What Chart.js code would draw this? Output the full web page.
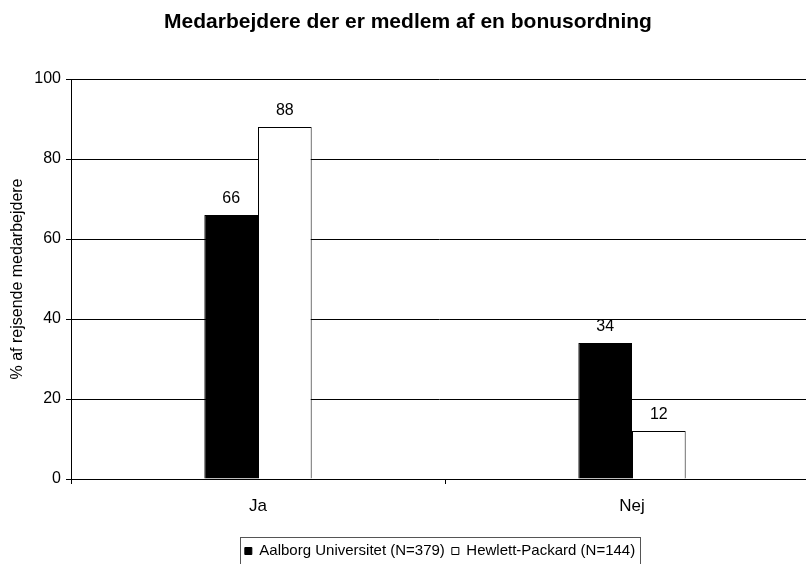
<!DOCTYPE html>
<html>
<head>
<meta charset="utf-8">
<script src="https://cdn.jsdelivr.net/npm/chart.js@4"></script>
<style>
  html, body { margin: 0; padding: 0; background: #fff; overflow: hidden; }
  #wrap { width: 806px; height: 564px; }
</style>
</head>
<body>
<div id="wrap"><canvas id="chart" width="806" height="564"></canvas></div>
<script>
// data
const categories = ["Ja", "Nej"];
const seriesNames = ["Aalborg Universitet (N=379)", "Hewlett-Packard (N=144)"];
const aalborg = [66, 34];
const hp = [88, 12];
const yTicks = [0, 20, 40, 60, 80, 100];

const FONT = "'Liberation Sans', Arial, sans-serif";
Chart.defaults.font.family = FONT;
Chart.defaults.color = "#000";

// value labels above the bars
const valueLabels = {
  id: "valueLabels",
  afterDatasetsDraw(chart) {
    const ctx = chart.ctx;
    ctx.save();
    ctx.font = "16px " + FONT;
    ctx.fillStyle = "#000";
    ctx.textAlign = "center";
    ctx.textBaseline = "middle";
    chart.data.datasets.forEach((ds, i) => {
      chart.getDatasetMeta(i).data.forEach((bar, j) => {
        ctx.fillText(String(ds.data[j]), bar.x, bar.y - 16);
      });
    });
    ctx.restore();
  }
};

// plot area runs a bit past the right edge like the original (cropped) picture,
// title and legend get re-centred
const frameFix = {
  id: "frameFix",
  afterLayout(chart) {
    const x = chart.scales.x;
    x.right = 819;
    x.width = x.right - x.left;
    x.configure();
    chart.chartArea.right = 819;
    chart.chartArea.width = 819 - chart.chartArea.left;

    chart.titleBlock.left = 0;
    chart.titleBlock.right = 816;
    chart.titleBlock.width = 816;

    const lg = chart.legend;
    lg.left = 0;
    lg.right = 880;
    lg.width = 880;
  }
};

// frame around the legend
const legendFrame = {
  id: "legendFrame",
  afterDraw(chart) {
    const hits = chart.legend.legendHitBoxes;
    if (!hits || !hits.length) return;
    const first = hits[0];
    const last = hits[hits.length - 1];
    const left = Math.round(first.left - 5) + 0.5;
    const right = Math.round(last.left + last.width + 5) + 0.5;
    const top = Math.round(first.top - 6.5) + 0.5;
    const ctx = chart.ctx;
    ctx.save();
    ctx.strokeStyle = "#555";
    ctx.lineWidth = 1;
    ctx.strokeRect(left, top, right - left, 40);
    ctx.restore();
  }
};

new Chart(document.getElementById("chart"), {
  type: "bar",
  data: {
    labels: categories,
    datasets: [
      {
        label: seriesNames[0],
        data: aalborg,
        backgroundColor: "#000",
        borderColor: "#000",
        borderWidth: 1
      },
      {
        label: seriesNames[1],
        data: hp,
        backgroundColor: "#fff",
        borderColor: "#000",
        borderWidth: 1
      }
    ]
  },
  options: {
    responsive: false,
    animation: false,
    events: [],
    layout: { padding: { left: -11, right: 0, top: 0, bottom: -4.5 } },
    datasets: {
      bar: { categoryPercentage: 0.287, barPercentage: 1 }
    },
    plugins: {
      title: {
        display: true,
        text: "Medarbejdere der er medlem af en bonusordning",
        font: { size: 21, weight: "bold" },
        color: "#000",
        padding: { top: 9.4, bottom: 44.4 }
      },
      legend: {
        position: "bottom",
        labels: {
          boxWidth: 7,
          boxHeight: 7,
          padding: 7,
          font: { size: 15 },
          color: "#000"
        }
      },
      tooltip: { enabled: false }
    },
    scales: {
      x: {
        grid: {
          drawOnChartArea: false,
          drawTicks: true,
          tickLength: 5,
          color: "#000"
        },
        border: { color: "#000" },
        ticks: { font: { size: 17 }, padding: 12, color: "#000" },
        afterFit(scale) { scale.height = 57.5; }
      },
      y: {
        min: 0,
        max: 100,
        afterBuildTicks(scale) { scale.ticks = yTicks.map(v => ({ value: v })); },
        grid: { color: "#000", tickLength: 5 },
        border: { color: "#000" },
        ticks: { font: { size: 16 }, padding: 5, color: "#000" },
        title: {
          display: true,
          text: "% af rejsende medarbejdere",
          font: { size: 16 },
          color: "#000",
          padding: { top: 19.4, bottom: 0 }
        },
        afterFit(scale) { scale.width = 82; }
      }
    }
  },
  plugins: [frameFix, valueLabels, legendFrame]
});
</script>
</body>
</html>
